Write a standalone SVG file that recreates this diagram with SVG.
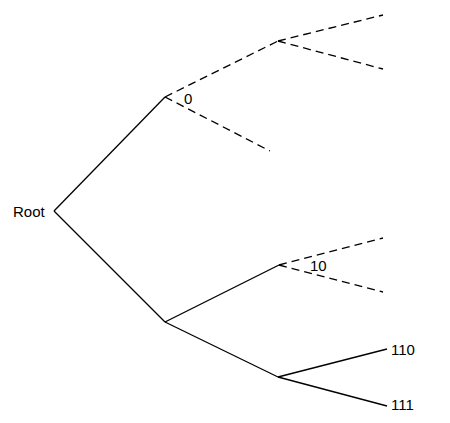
<svg xmlns="http://www.w3.org/2000/svg" width="450" height="423" viewBox="0 0 450 423">
<style>
.e{stroke:#000;stroke-width:1.3;fill:none}
.d{stroke-dasharray:8,5}
text{font-family:"Liberation Sans",Arial,sans-serif;font-size:15px;fill:#000}
</style>
<rect width="450" height="423" fill="#fff"/>
<g id="connectors">
<path class="e" d="M54,211 L165,97"/>
<path class="e" d="M54,211 L165,322"/>
<path class="e d" d="M165,97 L278,41"/>
<path class="e d" d="M165,97 L270,151"/>
<path class="e d" d="M278,41 L383,15"/>
<path class="e d" d="M278,41 L383,69"/>
<path class="e" d="M165,322 L279,265"/>
<path class="e" d="M165,322 L278,377"/>
<path class="e d" d="M279,265 L383,238"/>
<path class="e d" d="M279,265 L383,292"/>
<path class="e" d="M278,377 L387,349"/>
<path class="e" d="M278,377 L387,406"/>
</g>
<g id="root"><text x="13" y="217">Root</text></g>
<g id="n0"><text x="184" y="104">0</text></g>
<g id="n10"><text x="310" y="271">10</text></g>
<g id="n110"><text x="391" y="355">110</text></g>
<g id="n111"><text x="391" y="410">111</text></g>
</svg>
